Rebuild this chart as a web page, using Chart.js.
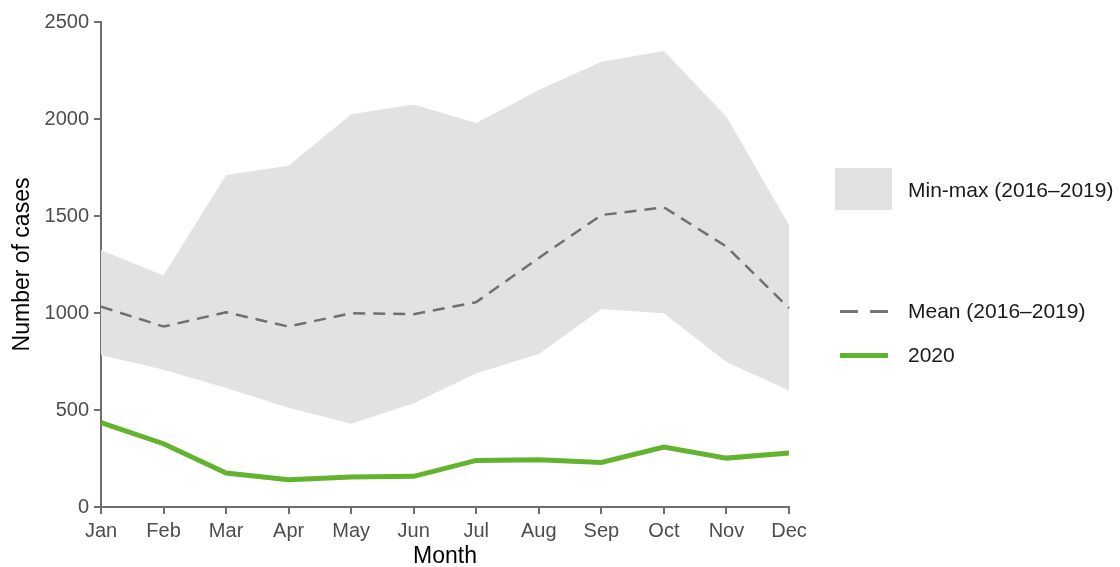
<!DOCTYPE html>
<html>
<head>
<meta charset="utf-8">
<script src="https://cdn.jsdelivr.net/npm/chart.js@4/dist/chart.umd.min.js"></script>
<style>
  html, body { margin: 0; padding: 0; background: #fff; }
  #wrap { position: relative; width: 1120px; height: 567px; font-family: 'Liberation Sans', Arial, sans-serif; }
  #casesChart { position: absolute; left: 0; top: 0; }
  .leg { position: absolute; left: 908px; font-size: 21px; color: #1a1a1a; line-height: 24px; white-space: nowrap; }
  .sw { position: absolute; }
</style>
</head>
<body>
<div id="wrap">
  <canvas id="casesChart" width="1120" height="567"></canvas>
  <!-- legend -->
  <div class="sw" style="left:835px; top:168px; width:57px; height:42px; background:#e2e2e2;"></div>
  <div class="leg" style="top:178px;">Min-max (2016–2019)</div>
  <div class="sw" style="left:840px; top:310px; width:18px; height:3px; background:#777;"></div>
  <div class="sw" style="left:870px; top:310px; width:18px; height:3px; background:#777;"></div>
  <div class="leg" style="top:299px;">Mean (2016–2019)</div>
  <div class="sw" style="left:840px; top:353px; width:48px; height:5px; background:#62b42f;"></div>
  <div class="leg" style="top:343px;">2020</div>
</div>
<script>
/* ── data ── */
const months = ['Jan', 'Feb', 'Mar', 'Apr', 'May', 'Jun', 'Jul', 'Aug', 'Sep', 'Oct', 'Nov', 'Dec'];
const minCases  = [784, 707, 614, 511, 429, 535, 690, 789, 1020, 999, 747, 600];
const maxCases  = [1325, 1193, 1711, 1759, 2024, 2075, 1980, 2149, 2295, 2350, 2011, 1454];
const meanCases = [1033, 930, 1004, 930, 999, 994, 1056, 1284, 1505, 1545, 1342, 1025];
const cases2020 = [435, 326, 175, 141, 154, 158, 240, 244, 230, 309, 252, 278];
const yTicks = [0, 500, 1000, 1500, 2000, 2500];

const axisGrey = '#6e6e6e';
const tickFont = { family: 'Liberation Sans', size: 20 };
const titleFont = { family: 'Liberation Sans', size: 23, lineHeight: 0.9 };

new Chart(document.getElementById('casesChart'), {
  type: 'line',
  data: {
    labels: months,
    datasets: [
      {
        label: 'min',
        data: minCases,
        borderWidth: 0,
        pointRadius: 0,
        fill: false,
        order: 3
      },
      {
        label: 'Min-max (2016–2019)',
        data: maxCases,
        borderWidth: 0,
        pointRadius: 0,
        backgroundColor: '#e2e2e2',
        fill: '-1',
        order: 2
      },
      {
        label: 'Mean (2016–2019)',
        data: meanCases,
        borderColor: '#6f6f6f',
        borderWidth: 2.5,
        borderDash: [12, 8],
        pointRadius: 0,
        fill: false,
        order: 1
      },
      {
        label: '2020',
        data: cases2020,
        borderColor: '#62b42f',
        borderWidth: 5,
        pointRadius: 0,
        fill: false,
        order: 0
      }
    ]
  },
  options: {
    responsive: false,
    animation: false,
    layout: { padding: { left: 0, right: 331, top: 22, bottom: 0 } },
    plugins: {
      legend: { display: false },
      tooltip: { enabled: false }
    },
    scales: {
      x: {
        offset: false,
        afterFit: (axis) => { axis.height = 60; },
        grid: { drawOnChartArea: false, drawTicks: true, tickLength: 7, color: axisGrey, lineWidth: 2 },
        border: { color: axisGrey, width: 2 },
        ticks: { color: '#4d4d4d', font: tickFont, padding: 5, maxRotation: 0, autoSkip: false },
        title: { display: true, text: 'Month', color: '#000', font: titleFont, padding: { top: 0, bottom: 0 } }
      },
      y: {
        min: 0,
        max: 2500,
        afterBuildTicks: (axis) => { axis.ticks = yTicks.map(v => ({ value: v })); },
        afterFit: (axis) => { axis.width = 101; },
        grid: { drawOnChartArea: false, drawTicks: true, tickLength: 7, color: axisGrey, lineWidth: 2 },
        border: { color: axisGrey, width: 2 },
        ticks: { color: '#4d4d4d', font: tickFont, padding: 5, callback: (v) => String(v) },
        title: { display: true, text: 'Number of cases', color: '#000', font: titleFont, padding: { top: 12 } }
      }
    }
  }
});
</script>
</body>
</html>
